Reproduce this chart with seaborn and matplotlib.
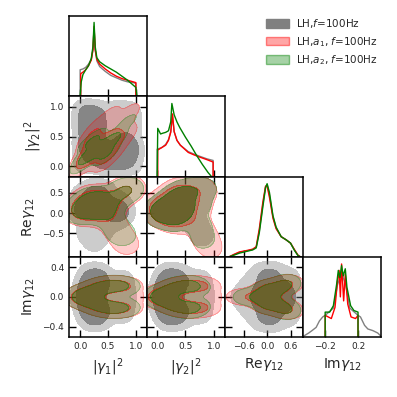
import numpy as np
import pandas as pd
import matplotlib
matplotlib.use("Agg")
import matplotlib.pyplot as plt
import seaborn as sns
from matplotlib.patches import Patch

sns.set_style("white")
plt.rcParams['font.family'] = ['DejaVu Sans']
plt.rcParams['mathtext.fontset'] = 'dejavusans'

names = [r'$|\gamma_1|^2$', r'$|\gamma_2|^2$', r'Re$\gamma_{12}$', r'Im$\gamma_{12}$']
xlims = [(-0.2, 1.2), (-0.18, 1.2), (-1.08, 0.92), (-0.47, 0.48)]
ylims = [(0, 1), (-0.17, 1.18), (-1.09, 0.91), (-0.54, 0.54)]
xticks = [[0, 0.5, 1.0], [0, 0.5, 1.0], [-0.6, 0, 0.6], [-0.2, 0.2]]
yticks = [[], [0, 0.5, 1.0], [-0.5, 0, 0.5], [-0.4, 0, 0.4]]

legend_labels = [r'LH,$f$=100Hz', r'LH,$a_1$, $f$=100Hz', r'LH,$a_2$, $f$=100Hz']

# ---- 1D marginals (height as fraction of panel) ----
d0_gray_x = [0.0, 0.0, 0.05, 0.1, 0.15, 0.2, 0.23, 0.25, 0.27, 0.3, 0.35, 0.45, 0.55, 0.65, 0.75, 0.85, 0.95, 1.0, 1.0]
d0_gray_y = [0, 0.33, 0.34, 0.36, 0.40, 0.46, 0.58, 0.85, 0.58, 0.44, 0.37, 0.31, 0.26, 0.23, 0.20, 0.18, 0.17, 0.16, 0]
d0_red_x = [0.01, 0.01, 0.05, 0.1, 0.15, 0.2, 0.23, 0.25, 0.27, 0.3, 0.35, 0.45, 0.55, 0.65, 0.75, 0.85, 0.95, 1.0, 1.0]
d0_red_y = [0, 0.28, 0.30, 0.33, 0.38, 0.45, 0.58, 0.87, 0.58, 0.46, 0.40, 0.34, 0.29, 0.25, 0.22, 0.20, 0.18, 0.17, 0]
d0_green_x = [0.0, 0.02, 0.05, 0.1, 0.15, 0.2, 0.23, 0.25, 0.27, 0.3, 0.35, 0.45, 0.55, 0.65, 0.75, 0.85, 0.95, 1.0, 1.02]
d0_green_y = [0, 0.18, 0.27, 0.33, 0.38, 0.47, 0.62, 0.92, 0.62, 0.48, 0.43, 0.38, 0.34, 0.30, 0.25, 0.20, 0.14, 0.11, 0]

d1_gray_x = [0.0, 0.0, 0.08, 0.15, 0.2, 0.24, 0.27, 0.3, 0.35, 0.41, 0.55, 0.65, 0.76, 0.88, 0.99, 0.99]
d1_gray_y = [0, 0.34, 0.36, 0.40, 0.46, 0.56, 0.76, 0.56, 0.45, 0.39, 0.31, 0.28, 0.25, 0.22, 0.20, 0]
d1_red_x = [0.01, 0.01, 0.08, 0.15, 0.2, 0.24, 0.27, 0.3, 0.35, 0.41, 0.55, 0.65, 0.76, 0.88, 0.99, 0.99]
d1_red_y = [0, 0.33, 0.36, 0.39, 0.45, 0.55, 0.78, 0.56, 0.45, 0.39, 0.30, 0.27, 0.24, 0.21, 0.18, 0]
d1_green_x = [0.0, 0.01, 0.06, 0.1, 0.15, 0.2, 0.24, 0.26, 0.3, 0.35, 0.4, 0.5, 0.6, 0.7, 0.8, 0.85, 0.9, 0.96]
d1_green_y = [0, 0.60, 0.53, 0.54, 0.55, 0.57, 0.68, 0.91, 0.77, 0.68, 0.61, 0.49, 0.38, 0.26, 0.15, 0.10, 0.05, 0]

d2_x = [-0.97, -0.85, -0.71, -0.5, -0.37, -0.28, -0.2, -0.11, -0.04, 0.0, 0.06, 0.15, 0.23, 0.36, 0.49, 0.6, 0.7, 0.79, 0.85]
d2_gray_y = [0, 0.025, 0.055, 0.075, 0.09, 0.12, 0.32, 0.65, 0.87, 0.90, 0.77, 0.50, 0.36, 0.25, 0.21, 0.17, 0.085, 0.02, 0]
d2_red_y = [0, 0.03, 0.06, 0.08, 0.095, 0.125, 0.35, 0.68, 0.88, 0.88, 0.74, 0.48, 0.35, 0.25, 0.21, 0.17, 0.09, 0.02, 0]
d2_green_y = [0, 0.02, 0.045, 0.07, 0.085, 0.11, 0.30, 0.62, 0.86, 0.91, 0.80, 0.51, 0.37, 0.25, 0.21, 0.17, 0.08, 0.015, 0]

d3_gray_x = [-0.48, -0.4, -0.36, -0.31, -0.27, -0.23, -0.2, -0.1, -0.05, 0.0, 0.05, 0.1, 0.2, 0.23, 0.28, 0.32, 0.38, 0.44, 0.49]
d3_gray_y = [0, 0.05, 0.08, 0.12, 0.20, 0.25, 0.27, 0.36, 0.65, 0.80, 0.65, 0.36, 0.27, 0.25, 0.145, 0.10, 0.08, 0.05, 0]
d3_red_x = [-0.2, -0.2, -0.125, -0.08, -0.05, -0.03, -0.015, 0.0, 0.025, 0.045, 0.075, 0.115, 0.17, 0.2, 0.2]
d3_red_y = [0, 0.27, 0.23, 0.37, 0.70, 0.83, 0.50, 0.91, 0.45, 0.78, 0.41, 0.25, 0.23, 0.27, 0]
d3_green_x = [-0.2, -0.2, -0.145, -0.1, -0.06, -0.04, -0.02, 0.0, 0.02, 0.045, 0.065, 0.11, 0.15, 0.2, 0.2]
d3_green_y = [0, 0.31, 0.31, 0.39, 0.66, 0.83, 0.74, 0.89, 0.76, 0.85, 0.62, 0.39, 0.33, 0.31, 0]

# ---- 2D samples (x, y, weight) per panel ----
g10_x = [0.05, 0.05, 0.05, 0.05, 0.35, 0.35, 0.35, 0.35, 0.65, 0.65, 0.65, 0.65,
         0.92, 0.92, 0.92, 0.92, 0.2, 0.2, 0.2, 0.45, 0.7, 0.88]
g10_y = [0.05, 0.35, 0.65, 0.92, 0.05, 0.35, 0.65, 0.92, 0.05, 0.35, 0.65, 0.92,
         0.05, 0.35, 0.65, 0.92, 0.85, 0.55, 0.3, 0.15, 0.15, 0.3]
g10_w = [1, 1, 1, 1, 1, 1, 1, 1, 1, 1, 1, 1, 1, 1, 1, 1, 2, 2, 2, 2, 2, 2]
r10_x = [0.0, 0.3, 0.6, 0.9, 0.3, 0.65, 0.55, 0.85, 0.1, 0.25, 0.4, 0.2, 0.45, 0.6]
r10_y = [0.0, 0.3, 0.6, 0.9, 0.65, 0.3, 0.85, 0.55, 0.15, 0.25, 0.35, 0.45, 0.15, 0.45]
r10_w = [1, 1, 1, 1, 1, 1, 1, 1, 3, 3, 3, 3, 3, 3]
e10_x = [0.0, 0.3, 0.6, 0.85, 0.5, 0.3, 0.1, 0.25, 0.4, 0.2, 0.45, 0.6]
e10_y = [0.0, 0.25, 0.5, 0.75, 0.3, 0.5, 0.15, 0.25, 0.35, 0.4, 0.2, 0.45]
e10_w = [1, 1, 1, 1, 1, 1, 3, 3, 3, 3, 3, 3]

g20_x = [0.0, 0.2, 0.45, 0.7, 0.78, 0.6, 0.4, 0.25, 0.1, 0.02, 0.05, 0.25, 0.45, 0.7, 0.3, 0.35]
g20_y = [0.45, 0.6, 0.6, 0.3, 0.0, -0.2, -0.5, -0.75, -0.5, 0.0, 0.1, 0.1, 0.1, 0.05, 0.4, 0.25]
g20_w = [1, 1, 1, 1, 1, 1, 1, 1, 1, 1, 3, 3, 3, 3, 3, 3]
r20_x = [0.0, 0.15, 0.3, 0.45, 0.2, 0.35, 0.6, 0.8, 0.95, 0.6, 0.72, 0.84]
r20_y = [0.05, 0.15, 0.1, 0.05, 0.3, 0.3, 0.35, 0.55, 0.65, -0.3, -0.55, -0.8]
r20_w = [3, 3, 3, 3, 3, 3, 2, 2, 1, 1, 1, 1]
e20_x = [0.0, 0.15, 0.3, 0.45, 0.2, 0.35, 0.6, 0.8, 0.9, 0.6, 0.7, 0.78]
e20_y = [0.05, 0.15, 0.1, 0.05, 0.3, 0.3, 0.35, 0.55, 0.62, -0.25, -0.45, -0.6]
e20_w = [3, 3, 3, 3, 3, 3, 2, 2, 1, 1, 1, 1]

g21_x = [0.05, 0.15, 0.3, 0.3, 0.45, 0.45, 0.65, 0.85, 0.75, 0.7, 0.8]
g21_y = [0.02, 0.1, 0.3, -0.1, 0.45, 0.05, 0.6, 0.6, 0.2, -0.3, -0.6]
g21_w = [3, 3, 3, 3, 3, 3, 1, 1, 1, 1, 1]
r21_x = [0.05, 0.15, 0.3, 0.3, 0.45, 0.45, 0.65, 0.85, 0.75, 0.75, 0.85, 0.92]
r21_y = [0.02, 0.1, 0.3, -0.1, 0.45, 0.05, 0.6, 0.6, 0.2, -0.3, -0.6, -0.85]
r21_w = [3, 3, 3, 3, 3, 3, 1, 1, 1, 1, 1, 1]
e21_x = [0.05, 0.15, 0.3, 0.3, 0.45, 0.45, 0.65, 0.85, 0.75, 0.75, 0.82]
e21_y = [0.02, 0.1, 0.3, -0.1, 0.45, 0.05, 0.6, 0.6, 0.2, -0.3, -0.65]
e21_w = [3, 3, 3, 3, 3, 3, 1, 1, 1, 1, 1]

g30_x = [0.08, 0.15, 0.15, 0.3, 0.3, 0.3, 0.15, 0.15, 0.4, 0.4, 0.6, 0.6, 0.8, 0.8, 0.85]
g30_y = [0.0, 0.15, -0.15, 0.22, -0.22, 0.0, 0.3, -0.3, 0.28, -0.28, 0.15, -0.15, 0.22, -0.22, 0.0]
g30_w = [3, 3, 3, 3, 3, 3, 1, 1, 1, 1, 1, 1, 1, 1, 1]
r30_x = [0.0, 0.15, 0.15, 0.35, 0.35, 0.55, 0.55, 0.75, 0.75, 0.9, 0.9, 0.95]
r30_y = [0.0, 0.05, -0.05, 0.12, -0.12, 0.15, -0.15, 0.15, -0.15, 0.15, -0.15, 0.0]
r30_w = [3, 3, 3, 3, 3, 3, 3, 2, 2, 1, 1, 1]
e30_x = [0.0, 0.15, 0.15, 0.35, 0.35, 0.55, 0.55, 0.75, 0.75, 0.85, 0.85]
e30_y = [0.0, 0.05, -0.05, 0.12, -0.12, 0.15, -0.15, 0.15, -0.15, 0.14, -0.14]
e30_w = [3, 3, 3, 3, 3, 3, 3, 2, 2, 1, 1]

g31_x = [0.08, 0.15, 0.15, 0.3, 0.3, 0.3, 0.15, 0.15, 0.45, 0.45, 0.65, 0.65, 0.8, 0.8, 0.85]
g31_y = [0.0, 0.15, -0.15, 0.22, -0.22, 0.0, 0.3, -0.3, 0.28, -0.28, 0.15, -0.15, 0.22, -0.22, 0.0]
g31_w = [3, 3, 3, 3, 3, 3, 1, 1, 1, 1, 1, 1, 1, 1, 1]
r31_x = [0.0, 0.15, 0.15, 0.35, 0.35, 0.55, 0.55, 0.75, 0.75, 0.9, 0.9, 0.95]
r31_y = [0.0, 0.05, -0.05, 0.12, -0.12, 0.15, -0.15, 0.15, -0.15, 0.15, -0.15, 0.0]
r31_w = [3, 3, 3, 3, 3, 3, 3, 2, 2, 1, 1, 1]
e31_x = [0.0, 0.15, 0.15, 0.3, 0.3, 0.5, 0.5, 0.65, 0.65, 0.75, 0.75]
e31_y = [0.0, 0.05, -0.05, 0.12, -0.12, 0.15, -0.15, 0.15, -0.15, 0.12, -0.12]
e31_w = [3, 3, 3, 3, 3, 3, 3, 2, 2, 1, 1]

g32_x = [0.05, 0.05, 0.05, -0.15, 0.4, 0.4, -0.7, -0.45, -0.45, -0.2, -0.2, 0.25, 0.25, 0.6, 0.6, 0.7]
g32_y = [0.25, -0.25, 0.0, 0.0, 0.05, -0.05, 0.0, 0.15, -0.15, 0.3, -0.3, 0.3, -0.3, 0.25, -0.25, 0.0]
g32_w = [3, 3, 3, 3, 3, 3, 1, 1, 1, 1, 1, 1, 1, 1, 1, 1]
r32_x = [-0.8, -0.6, -0.4, -0.2, 0.0, 0.0, 0.0, 0.25, 0.25, 0.45, 0.45, 0.65, 0.65]
r32_y = [0.0, 0.0, 0.0, 0.0, 0.0, 0.1, -0.1, 0.1, -0.1, 0.16, -0.16, 0.2, -0.2]
r32_w = [1, 1, 1, 3, 3, 3, 3, 3, 3, 3, 3, 1, 1]
e32_x = [-0.65, -0.45, -0.2, 0.0, 0.0, 0.0, 0.25, 0.25, 0.45, 0.45, 0.6, 0.6]
e32_y = [0.0, 0.0, 0.0, 0.0, 0.1, -0.1, 0.1, -0.1, 0.16, -0.16, 0.2, -0.2]
e32_w = [1, 1, 3, 3, 3, 3, 3, 3, 3, 3, 1, 1]

# colours: (outer band, inner band) and contour line
gray_fill = [(0.5, 0.5, 0.5, 0.4), (0.5, 0.5, 0.5, 0.95)]
red_fill = [(1.0, 0.0, 0.0, 0.2), (1.0, 0.0, 0.0, 0.42)]
green_fill = [(0.0, 0.5, 0.0, 0.2), (0.0, 0.5, 0.0, 0.42)]
red_line = (1.0, 0.0, 0.0, 0.35)
green_line = (0.0, 0.5, 0.0, 0.35)

diag = {
    0: [(d0_gray_x, d0_gray_y), (d0_red_x, d0_red_y), (d0_green_x, d0_green_y)],
    1: [(d1_gray_x, d1_gray_y), (d1_red_x, d1_red_y), (d1_green_x, d1_green_y)],
    2: [(d2_x, d2_gray_y), (d2_x, d2_red_y), (d2_x, d2_green_y)],
    3: [(d3_gray_x, d3_gray_y), (d3_red_x, d3_red_y), (d3_green_x, d3_green_y)],
}
panels = {
    (1, 0): [(g10_x, g10_y, g10_w), (r10_x, r10_y, r10_w), (e10_x, e10_y, e10_w)],
    (2, 0): [(g20_x, g20_y, g20_w), (r20_x, r20_y, r20_w), (e20_x, e20_y, e20_w)],
    (2, 1): [(g21_x, g21_y, g21_w), (r21_x, r21_y, r21_w), (e21_x, e21_y, e21_w)],
    (3, 0): [(g30_x, g30_y, g30_w), (r30_x, r30_y, r30_w), (e30_x, e30_y, e30_w)],
    (3, 1): [(g31_x, g31_y, g31_w), (r31_x, r31_y, r31_w), (e31_x, e31_y, e31_w)],
    (3, 2): [(g32_x, g32_y, g32_w), (r32_x, r32_y, r32_w), (e32_x, e32_y, e32_w)],
}
# smoothing per panel (gray, red, green)
bandwidths = {(1, 0): [0.7, 0.85, 0.85]}
line_colors = ['gray', 'red', 'green']
fills = [gray_fill, red_fill, green_fill]
edges = [None, red_line, green_line]


def contour2d(ax, xs, ys, ws, face, edge, c, bw=0.85):
    df = pd.DataFrame({'x': np.asarray(xs, float), 'y': np.asarray(ys, float),
                       'w': np.asarray(ws, float)})
    # color= is given so seaborn does not probe fill_between with `colors`
    sns.kdeplot(data=df, x='x', y='y', weights='w', ax=ax, fill=True, color=c,
                levels=[0.05, 0.32, 1.0], colors=face, bw_adjust=bw)
    if edge is not None:
        sns.kdeplot(data=df, x='x', y='y', weights='w', ax=ax, fill=False, color=c,
                    levels=[0.05, 0.32], colors=[edge], linewidths=0.5, bw_adjust=bw)


fig, axes = plt.subplots(4, 4, figsize=(3.97, 3.97), dpi=100)
fig.subplots_adjust(left=69 / 397, right=381 / 397, bottom=1 - 337 / 397, top=1 - 16 / 397,
                    wspace=0, hspace=0)

for i in range(4):
    for j in range(4):
        ax = axes[i, j]
        if j > i:
            ax.axis('off')
            continue
        if i == j:
            for (xs, ys), c in zip(diag[i], line_colors):
                ax.plot(xs, ys, color=c, lw=1.0)
            ax.set_ylim(0, 1)
            ax.set_yticks([])
            ax.tick_params(axis='x', direction='in', length=5, width=1, bottom=True, top=False)
        else:
            bws = bandwidths.get((i, j), [0.85, 0.85, 0.85])
            for (xs, ys, ws), f, e, c, bw in zip(panels[(i, j)], fills, edges, line_colors, bws):
                contour2d(ax, xs, ys, ws, f, e, c, bw)
            ax.set_ylim(*ylims[i])
            ax.set_yticks(yticks[i])
            ax.tick_params(direction='in', length=5, width=1, bottom=True, top=True,
                           left=True, right=True)
        ax.set_xlim(*xlims[j])
        ax.set_xticks(xticks[j])
        for s in ax.spines.values():
            s.set_linewidth(1.1)
            s.set_color('black')
        ax.tick_params(labelsize=6.5, color='black')
        ax.set_xlabel('')
        ax.set_ylabel('')
        if i == 3:
            ax.set_xlabel(names[j], fontsize=10)
        else:
            ax.set_xticklabels([])
        if j == 0 and i > 0:
            ax.set_ylabel(names[i], fontsize=10)
        else:
            ax.set_yticklabels([])

handles = [Patch(facecolor='gray', edgecolor='gray'),
           Patch(facecolor=(1, 0, 0, 0.35), edgecolor=(1, 0, 0, 0.45)),
           Patch(facecolor=(0, 0.5, 0, 0.35), edgecolor=(0, 0.5, 0, 0.45))]
fig.legend(handles, legend_labels, loc='center left', bbox_to_anchor=(266 / 397, 1 - 42 / 397),
           frameon=False, fontsize=7.5, borderpad=0, borderaxespad=0, handlelength=2.2,
           handleheight=0.85, handletextpad=0.7, labelspacing=0.45)

fig.savefig('out.png', dpi=100)
